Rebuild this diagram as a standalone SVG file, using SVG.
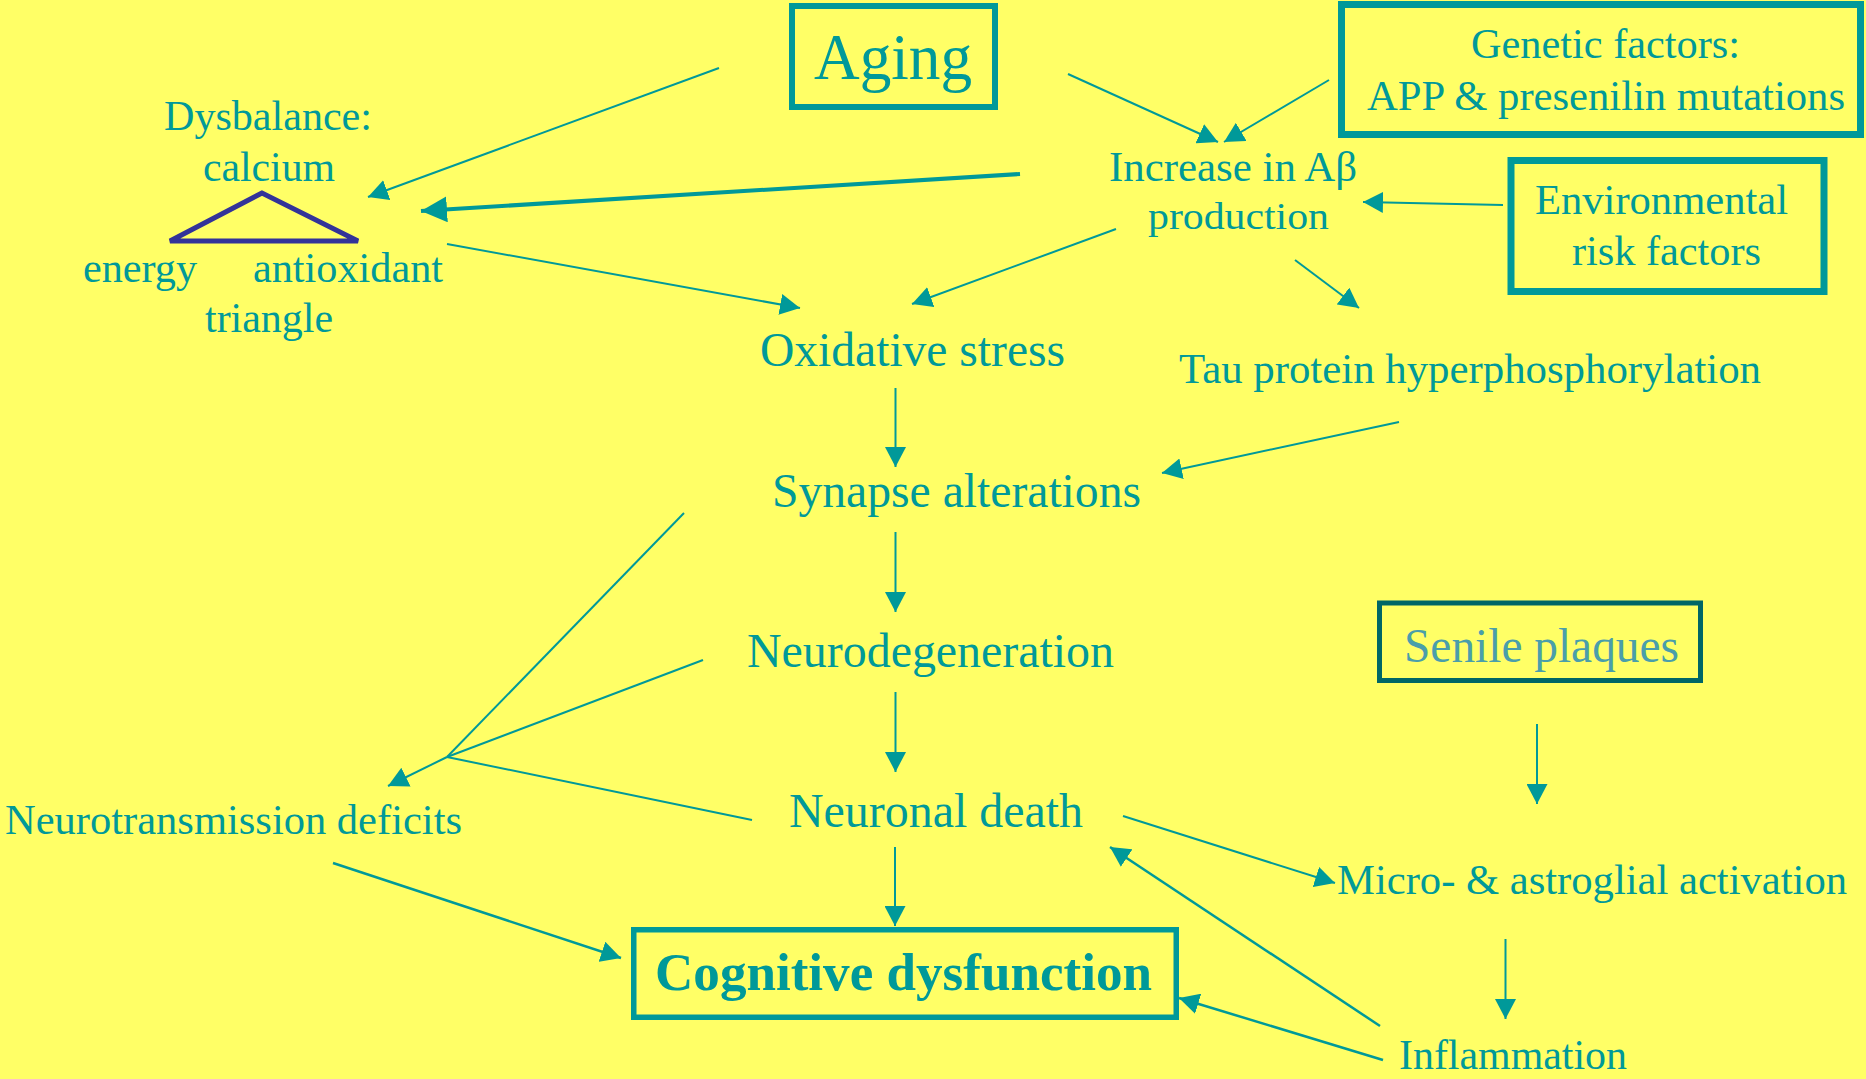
<svg xmlns="http://www.w3.org/2000/svg" width="1866" height="1079" viewBox="0 0 1866 1079">
<defs>
<style>
.t{font-family:"Liberation Serif","Times New Roman",serif;fill:#009999;font-size:42.5px}
.m{font-size:48px}
.box{fill:none;stroke:#009999}
.c{stroke:#009999;stroke-width:2;fill:none;marker-end:url(#ah)}
.l{stroke:#009999;stroke-width:2;fill:none}
</style>
<marker id="ah" markerUnits="userSpaceOnUse" markerWidth="21" markerHeight="21" refX="20" refY="10.5" orient="auto" viewBox="0 0 21 21">
<path d="M0,0 L20,10.5 L0,21 z" fill="#009999"/>
</marker>
<marker id="ahb" markerUnits="userSpaceOnUse" markerWidth="27" markerHeight="26" refX="26" refY="13" orient="auto" viewBox="0 0 27 26">
<path d="M0,0 L26,13 L0,26 z" fill="#009999"/>
</marker>
</defs>
<rect x="0" y="0" width="1866" height="1079" fill="#FFFF66"/>

<g id="connectors">
<line class="c" x1="719" y1="68" x2="368" y2="197"/>
<line class="c" x1="1068" y1="74" x2="1218" y2="142"/>
<line class="c" x1="1329" y1="80" x2="1224" y2="142"/>
<line x1="1020" y1="174" x2="421" y2="211" stroke="#009999" stroke-width="4" marker-end="url(#ahb)"/>
<line class="c" x1="1503" y1="205" x2="1363" y2="202"/>
<line class="c" x1="447" y1="244" x2="800" y2="308"/>
<line class="c" x1="1116" y1="229" x2="912" y2="304"/>
<line class="c" x1="1295" y1="260" x2="1359" y2="308"/>
<line class="c" x1="895.5" y1="388" x2="895.5" y2="467"/>
<line class="c" x1="1399" y1="422" x2="1162" y2="473"/>
<line class="c" x1="895.5" y1="532" x2="895.5" y2="612"/>
<line class="c" x1="895.5" y1="692" x2="895.5" y2="772"/>
<line class="l" x1="684" y1="513" x2="447" y2="757"/>
<line class="l" x1="703" y1="660" x2="447" y2="757"/>
<line class="l" x1="752" y1="820" x2="447" y2="757"/>
<line class="c" x1="447" y1="757" x2="388" y2="786"/>
<line class="c" style="stroke-width:2.5" x1="333" y1="863" x2="621" y2="958"/>
<line class="c" x1="895" y1="847" x2="895" y2="926"/>
<line class="c" x1="1123" y1="816" x2="1335" y2="883"/>
<line class="c" x1="1537" y1="724" x2="1537" y2="804"/>
<line class="c" x1="1505.5" y1="939" x2="1505.5" y2="1019"/>
<line class="c" style="stroke-width:2.5" x1="1380" y1="1026" x2="1110" y2="847"/>
<line class="c" style="stroke-width:2.5" x1="1383" y1="1060" x2="1179" y2="998"/>
</g>

<g id="aging">
<rect class="box" x="792" y="6" width="203" height="101" stroke-width="6"/>
<text class="t" x="814" y="79" style="font-size:66px" textLength="158" lengthAdjust="spacingAndGlyphs">Aging</text>
</g>

<g id="genetic">
<rect class="box" x="1341.5" y="4.5" width="519" height="130" stroke-width="7"/>
<text class="t" x="1471" y="58" textLength="269" lengthAdjust="spacingAndGlyphs">Genetic factors:</text>
<text class="t" x="1367" y="110" textLength="478" lengthAdjust="spacingAndGlyphs">APP &amp; presenilin mutations</text>
</g>

<g id="dysbalance">
<text class="t" x="164" y="130" textLength="208" lengthAdjust="spacingAndGlyphs">Dysbalance:</text>
<text class="t" x="203" y="181" textLength="132" lengthAdjust="spacingAndGlyphs">calcium</text>
<polygon points="262,193 170,241 358,241" fill="none" stroke="#333399" stroke-width="5" stroke-linejoin="miter"/>
<text class="t" x="83" y="282" textLength="114" lengthAdjust="spacingAndGlyphs">energy</text>
<text class="t" x="253" y="282" textLength="190" lengthAdjust="spacingAndGlyphs">antioxidant</text>
<text class="t" x="205" y="332" textLength="128" lengthAdjust="spacingAndGlyphs">triangle</text>
</g>

<g id="abeta">
<text class="t" x="1109" y="181" textLength="248" lengthAdjust="spacingAndGlyphs">Increase in Aβ</text>
<text class="t" x="1148" y="229" style="font-size:37px" textLength="181" lengthAdjust="spacingAndGlyphs">production</text>
</g>

<g id="environmental">
<rect class="box" x="1511" y="160.5" width="313" height="131" stroke-width="7"/>
<text class="t" x="1535" y="214" textLength="253" lengthAdjust="spacingAndGlyphs">Environmental</text>
<text class="t" x="1572" y="265" textLength="189" lengthAdjust="spacingAndGlyphs">risk factors</text>
</g>

<g id="oxidative">
<text class="t m" x="760" y="366" textLength="305" lengthAdjust="spacingAndGlyphs">Oxidative stress</text>
</g>

<g id="tau">
<text class="t" x="1179" y="383" textLength="582" lengthAdjust="spacingAndGlyphs">Tau protein hyperphosphorylation</text>
</g>

<g id="synapse">
<text class="t m" x="772" y="507" textLength="369" lengthAdjust="spacingAndGlyphs">Synapse alterations</text>
</g>

<g id="neurodegeneration">
<text class="t m" x="747" y="667" textLength="367" lengthAdjust="spacingAndGlyphs">Neurodegeneration</text>
</g>

<g id="senile">
<rect x="1379.5" y="603" width="321" height="77.5" fill="none" stroke="#006666" stroke-width="5"/>
<text class="t" x="1404" y="662" style="font-size:47.5px;fill:#4A9EAA" textLength="275" lengthAdjust="spacingAndGlyphs">Senile plaques</text>
</g>

<g id="neuronal-death">
<text class="t m" x="789" y="827" textLength="294" lengthAdjust="spacingAndGlyphs">Neuronal death</text>
</g>

<g id="neurotransmission">
<text class="t" x="5" y="834" textLength="457" lengthAdjust="spacingAndGlyphs">Neurotransmission deficits</text>
</g>

<g id="glial">
<text class="t" x="1337" y="894" textLength="510" lengthAdjust="spacingAndGlyphs">Micro- &amp; astroglial activation</text>
</g>

<g id="cognitive">
<rect class="box" x="633.75" y="929.75" width="542.5" height="87.5" stroke-width="5.5"/>
<text class="t" x="655" y="990" style="font-size:53px;font-weight:bold" textLength="497" lengthAdjust="spacingAndGlyphs">Cognitive dysfunction</text>
</g>

<g id="inflammation">
<text class="t" x="1399" y="1069" style="font-size:42px" textLength="228" lengthAdjust="spacingAndGlyphs">Inflammation</text>
</g>
</svg>
